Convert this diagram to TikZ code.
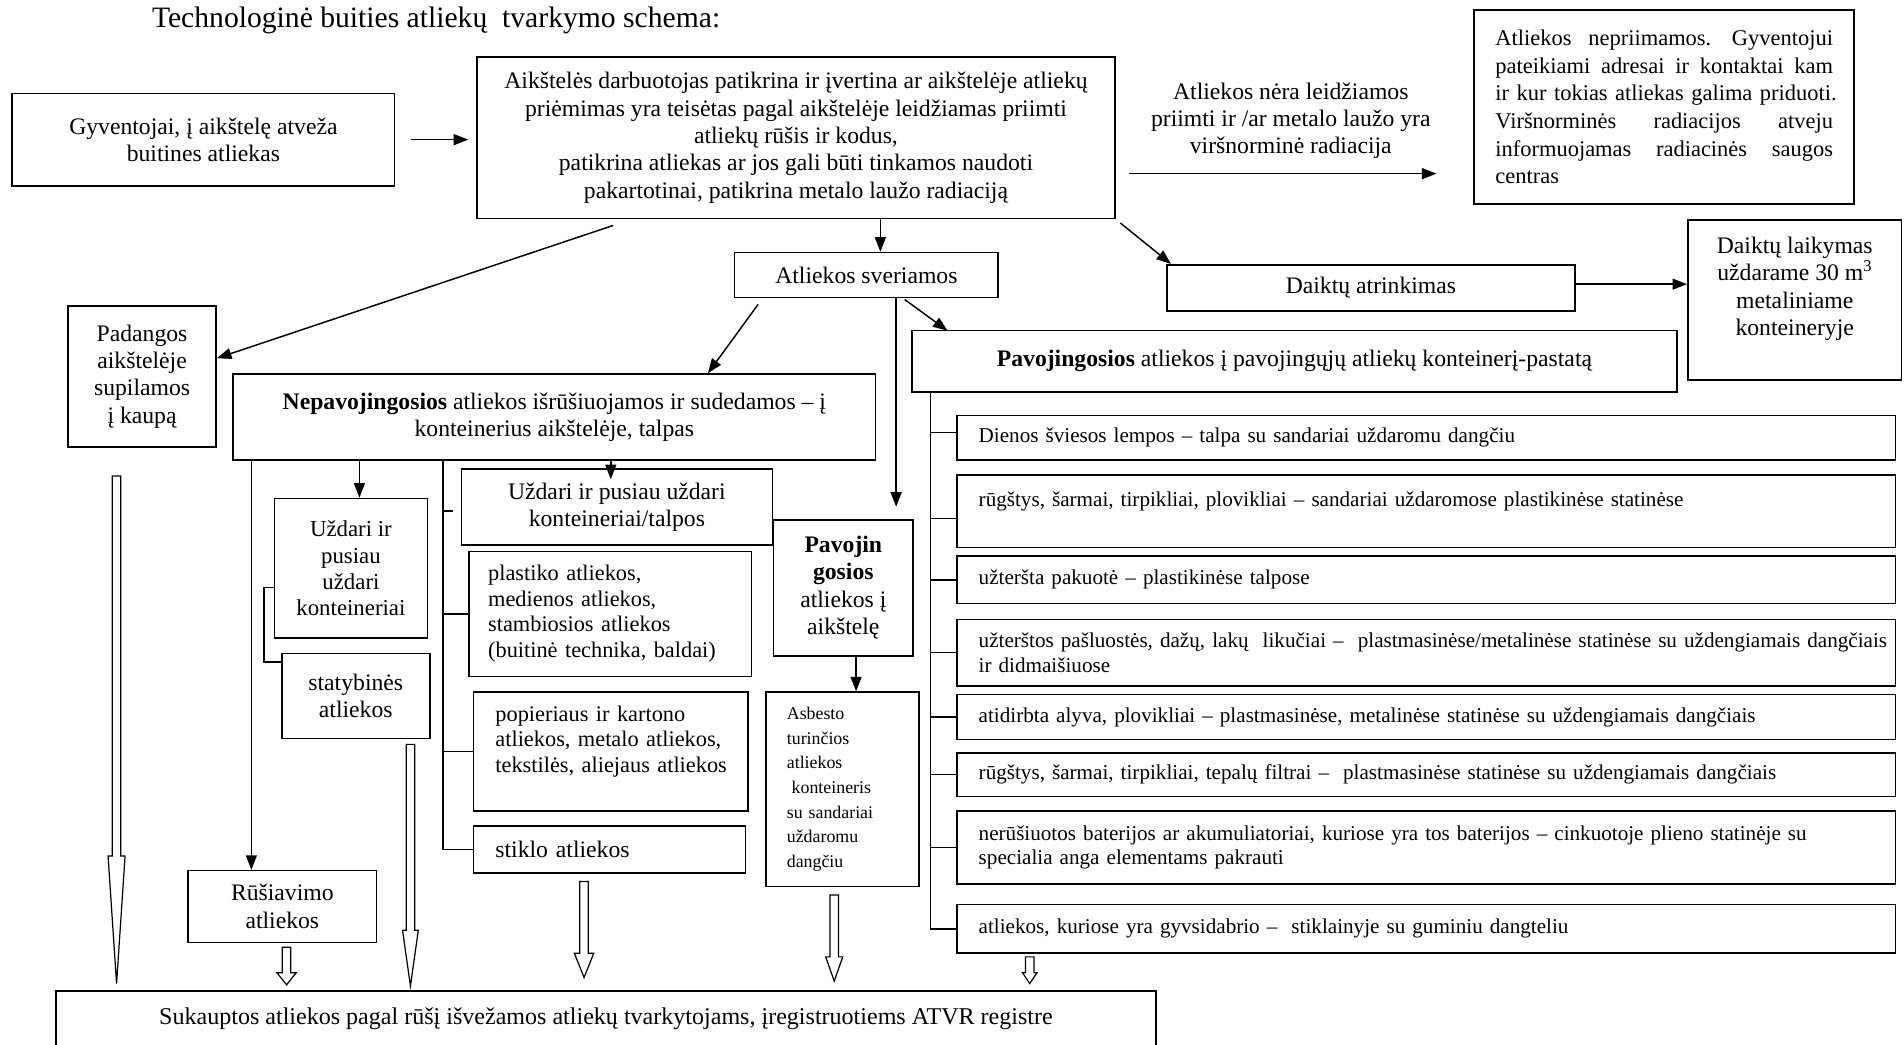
\documentclass[tikz,border=0pt]{standalone}
\usepackage{fontspec}
\setmainfont{Liberation Serif}
\usetikzlibrary{arrows.meta,calc}
\newcommand\bodyfnt{\fontsize{19.5}{22.5}\selectfont}
\newcommand\nprfnt{\fontsize{18.5}{22.8}\selectfont}
\newcommand\smlfnt{\fontsize{18.4}{21}\selectfont}
\newcommand\itemfnt{\fontsize{17.4}{20}\selectfont}
\newcommand\asbfnt{\fontsize{14.7}{20.3}\selectfont}
\newcommand\titlefnt{\fontsize{24.4}{28}\selectfont}
\newcommand\lne[1]{\mbox{#1}}
\newcommand\jline[1]{\makebox[278pt][l]{#1}}
\newcommand\hollowarrow[5]{% x, top, head start, tip, head half width
  \draw[hollow] (#1-3.5,#2) -- (#1+3.5,#2) -- (#1+3.5,#3) -- (#1+#5,#3) -- (#1,#4) -- (#1-#5,#3) -- (#1-3.5,#3) -- cycle;}
\tikzset{
  boxline/.style={line width=1.3pt, inner sep=0pt},
  box/.style={draw, boxline, align=center, font=\bodyfnt},
  sz/.style 2 args={minimum width=#1pt, minimum height=#2pt},
  item/.style={draw, boxline, align=left, font=\itemfnt, minimum width=773pt, text width=737pt, inner xsep=18pt},
  conn/.style={line width=1.2pt},
  arr/.style={conn, -{Triangle[length=12pt,width=9pt]}},
  hollow/.style={line width=1pt, line join=miter},
}
\begin{document}
\begin{tikzpicture}[x=1pt,y=-1pt]
\useasboundingbox (0,0) rectangle (1568,860);
\fill[white] (0,0) rectangle (1568,860);

\node[anchor=base west, font=\titlefnt, inner sep=0pt] (title) at (125,23) {Technologinė buities atliekų\ \ tvarkymo schema:};

% top row
\node[box, sz={315}{76}] (gyv) at (167.5,115) {Gyventojai, į aikštelę atveža\\buitines atliekas};
\node[box, sz={525}{133}] (aik) at (655.5,113.5) {Aikštelės darbuotojas patikrina ir įvertina ar aikštelėje atliekų\\priėmimas yra teisėtas pagal aikštelėje leidžiamas priimti\\atliekų rūšis ir kodus,\\patikrina atliekas ar jos gali būti tinkamos naudoti\\pakartotinai, patikrina metalo laužo radiaciją};
\node[font=\bodyfnt, align=center, inner sep=0pt] (lbl) at (1063,99.5) {Atliekos nėra leidžiamos\\priimti ir /ar metalo laužo yra\\viršnorminė radiacija};
\node[box, sz={313}{160}, text width=278pt, align=left, font=\nprfnt] (nepr) at (1370.5,88) {\jline{Atliekos\ \hfill nepriimamos. \hfill Gyventojui}\\\jline{pateikiami\ \hfill adresai \hfill ir \hfill kontaktai \hfill kam}\\\jline{ir \hfill kur \hfill tokias \hfill atliekas \hfill galima \hfill priduoti.}\\\jline{Viršnorminės \hfill radiacijos \hfill atveju}\\\jline{informuojamas \hfill radiacinės \hfill saugos}\\centras};
\node[box, sz={336}{38}] (daikt) at (1129,237) {Daiktų atrinkimas};
\node[box, sz={176}{132}] (laik) at (1478,247) {Daiktų laikymas\\uždarame 30 m\textsuperscript{3}\\metaliniame\\konteineryje\\\mbox{}};
\node[box, sz={217}{37}] (sver) at (713.5,226.5) {Atliekos sveriamos};

% middle
\node[box, sz={122}{116}] (pad) at (117,310) {Padangos\\aikštelėje\\supilamos\\į kaupą};
\node[box, sz={529}{71}] (nep) at (456.5,343.5) {\textbf{Nepavojingosios} atliekos išrūšiuojamos ir sudedamos – į\\konteinerius aikštelėje, talpas};
\node[box, sz={630}{51}] (pav) at (1066,297.5) {\textbf{Pavojingosios} atliekos į pavojingųjų atliekų konteinerį-pastatą};
\node[box, sz={126}{115}, font=\fontsize{18.8}{21.5}\selectfont] (uzk) at (289,468) {Uždari ir\\pusiau\\uždari\\konteineriai};
\node[box, sz={122}{70}] (stat) at (293,573) {statybinės\\atliekos};
\node[box, sz={256}{63}] (uzt) at (508,417.5) {Uždari ir pusiau uždari\\konteineriai/talpos};
\node[box, sz={233}{103}, align=left, text width=201pt, font=\smlfnt] (plast) at (502.5,505.5) {\lne{plastiko atliekos,}\\\lne{medienos atliekos,}\\\lne{stambiosios atliekos}\\\lne{(buitinė technika, baldai)}};
\node[box, sz={226}{98}, align=left, text width=190pt, font=\smlfnt] (pop) at (503,619) {\lne{popieriaus ir kartono}\\\lne{atliekos, metalo atliekos,}\\\lne{tekstilės, aliejaus atliekos}\\\mbox{}};
\node[box, sz={224}{39}, align=left, text width=188pt] (stik) at (502,699.5) {\lne{stiklo atliekos}};
\node[box, sz={115}{112}] (pavs) at (694.5,484) {\textbf{Pavojin}\\\textbf{gosios}\\atliekos į\\aikštelę};
\node[box, sz={126}{160}, align=left, text width=92pt, font=\asbfnt] (asb) at (694,650) {Asbesto\\turinčios\\atliekos\\\hspace*{4pt}konteineris\\su sandariai\\uždaromu\\dangčiu};
\node[box, sz={155}{59}] (rus) at (232.5,746.5) {Rūšiavimo\\atliekos};
\node[box, sz={906}{46}, font=\fontsize{19.8}{22.5}\selectfont] (suk) at (499,839) {Sukauptos atliekos pagal rūšį išvežamos atliekų tvarkytojams, įregistruotiems ATVR registre};

% hazardous items
\node[item, minimum height=37pt] (i1) at (1174.5,360.5) {Dienos šviesos lempos – talpa su sandariai uždaromu dangčiu};
\node[item, minimum height=60pt] (i2) at (1174.5,421) {\lne{rūgštys, šarmai, tirpikliai, plovikliai – sandariai uždaromose plastikinėse statinėse}\\\mbox{}};
\node[item, minimum height=39pt] (i3) at (1174.5,477.5) {užteršta pakuotė – plastikinėse talpose};
\node[item, minimum height=55pt] (i4) at (1174.5,537.5) {\lne{užterštos pašluostės, dažų, lakų\ \ likučiai –\ \ plastmasinėse/metalinėse statinėse su uždengiamais dangčiais}\\\lne{ir didmaišiuose}};
\node[item, minimum height=37pt] (i5) at (1174.5,590.5) {\lne{atidirbta alyva, plovikliai – plastmasinėse, metalinėse statinėse su uždengiamais dangčiais}};
\node[item, minimum height=36pt] (i6) at (1174.5,638) {\lne{rūgštys, šarmai, tirpikliai, tepalų filtrai –\ \ plastmasinėse statinėse su uždengiamais dangčiais}};
\node[item, minimum height=60pt] (i7) at (1174.5,698) {\lne{nerūšiuotos baterijos ar akumuliatoriai, kuriose yra tos baterijos – cinkuotoje plieno statinėje su}\\\lne{specialia anga elementams pakrauti}};
\node[item, minimum height=40pt] (i8) at (1174.5,765) {\lne{atliekos, kuriose yra gyvsidabrio –\ \ stiklainyje su guminiu dangteliu}};

% helper coordinates
\coordinate (v207) at (207,0);
\coordinate (v296) at (296,0);
\coordinate (v365) at (365,0);
\coordinate (v503) at (503,0);
\coordinate (la) at (930,143);
\coordinate (lb) at (1183,143);
\coordinate (pvx) at ([xshift=16pt]pav.south west);

% top connectors
\draw[arr] (gyv.east) ++(13,0) -- ++(47,0);
\draw[arr] ([xshift=-150.5pt,yshift=-5pt]aik.south) -- ([yshift=15pt]pad.east);
\draw[arr] ([xshift=69.5pt]aik.south) -- ([xshift=11.5pt]sver.north);
\draw[arr] ([xshift=4pt,yshift=-3pt]aik.south east) -- ([xshift=4pt]daikt.north west);
\draw[arr] (la) -- (lb);
\draw[arr] ([yshift=3pt]daikt.east) -- ([yshift=3pt]laik.west |- daikt.east);

% from sveriamos
\draw[arr] ([xshift=20pt,yshift=-5pt]sver.south west) -- ([xshift=126.5pt]nep.north);
\draw[arr] ([xshift=24.5pt]sver.south) -- ([xshift=43.5pt,yshift=10pt]pavs.north);
\draw[arr] ([xshift=31.5pt,yshift=-1pt]sver.south) -- ([xshift=30pt,yshift=-1pt]pav.north west);

% hazardous branch
\draw[conn] (pvx) -- (pvx |- i8.west) -- (i8.west);
\draw[conn] (pvx |- i1.west) ++(0,-4.5) -- ++(21,0);
\draw[conn] (pvx |- i2.west) ++(0,6) -- ++(21,0);
\foreach \n in {i3,i4,i5,i6,i7} \draw[conn] (pvx |- \n.west) -- (\n.west);

% non-hazardous branch
\draw[arr] (nep.south -| v207) -- (rus.north -| v207);
\draw[arr] (nep.south -| v296) -- (uzk.north -| v296);
\draw[conn] ([yshift=-16pt]uzk.west) -- ++(-8,0) |- ([yshift=28pt]stat.west);
\draw[conn] (nep.south -| v365) -- (stik.west -| v365) -- (stik.west);
\draw[conn] (v365 |- uzt.west) ++(0,3.5) -- ++(8,0);
\draw[conn] (plast.west -| v365) -- (plast.west);
\draw[conn] (pop.west -| v365) -- (pop.west);
\draw[arr] (v503 |- nep.south) ++(0,-2) -- ++(0,17);
\draw[arr] ([xshift=10.5pt]pavs.south) -- ([xshift=10.5pt]pavs.south |- asb.north);

% hollow arrows to final box
\hollowarrow{96}{392}{705}{810}{7}
\hollowarrow{338}{613}{766}{812}{6.5}
\hollowarrow{481}{726}{785}{805}{8}
\hollowarrow{687}{737}{788}{808}{7}
\hollowarrow{236}{780}{801}{811}{8}
\hollowarrow{848}{788}{801}{810}{6}
\end{tikzpicture}
\end{document}
